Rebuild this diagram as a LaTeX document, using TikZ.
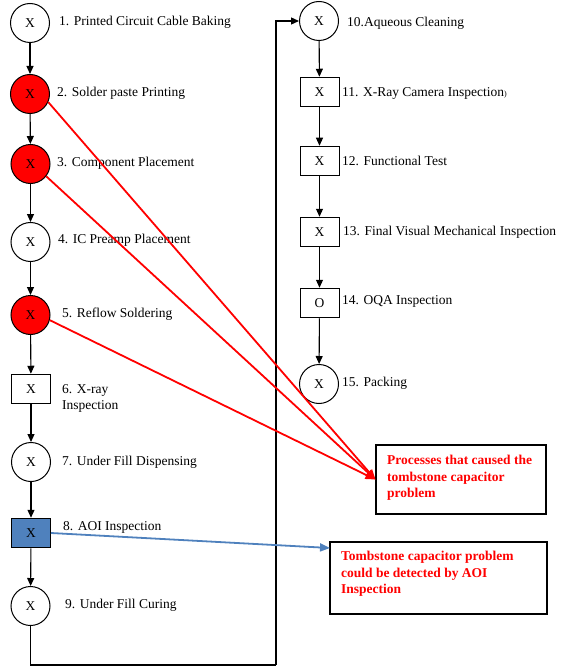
\documentclass[tikz,border=0pt]{standalone}
\usepackage{fontspec}
\setmainfont{Liberation Serif}
\usetikzlibrary{arrows.meta}
\definecolor{redfill}{RGB}{255,0,0}
\definecolor{aoiblue}{RGB}{79,129,189}
\begin{document}
\begin{tikzpicture}[x=1pt,y=-1pt,
  every node/.style={font=\fontsize{13.5}{16.5}\selectfont},
  circ/.style={circle,draw,line width=1pt,minimum size=39pt,inner sep=0pt},
  sq/.style={rectangle,draw,line width=1pt,minimum width=39pt,minimum height=29.5pt,inner sep=0pt},
  lbl/.style={anchor=west,inner sep=0pt,text height=9.5pt,text depth=3pt},
  flow/.style={line width=1.1pt,-{Triangle[length=8pt,width=7pt]}},
  redarr/.style={draw=red,line width=1.8pt,-{Triangle[length=10pt,width=8pt]}},
  bluearr/.style={draw=aoiblue,line width=1.8pt,-{Triangle[length=10pt,width=8pt]}},
  notebox/.style={rectangle,draw,line width=1.1pt,inner sep=0pt},
  notetxt/.style={anchor=north west,inner sep=0pt,align=left,text=red,font=\bfseries\fontsize{13.5}{16.5}\selectfont}
]
\useasboundingbox (0,0) rectangle (560,668);

% left column
\node[circ] (n1) at (30,23) {X};
\node[circ,fill=redfill] (n2) at (30,94) {X};
\node[circ,fill=redfill] (n3) at (30.5,164) {X};
\node[circ] (n4) at (30.5,242) {X};
\node[circ,fill=redfill] (n5) at (30.5,315) {X};
\node[sq] (n6) at (31,389) {X};
\node[circ] (n7) at (31,462) {X};
\node[sq,fill=aoiblue] (n8) at (31,533) {X};
\node[circ] (n9) at (30.5,606) {X};

% right column
\node[circ] (n10) at (319,21) {X};
\node[sq] (n11) at (319.5,92) {X};
\node[sq] (n12) at (319.5,161) {X};
\node[sq] (n13) at (319.5,232) {X};
\node[sq] (n14) at (319.5,303) {O};
\node[circ] (n15) at (319,384) {X};

% labels
\node[lbl] (l1) at (59,22) {1. Printed Circuit Cable Baking};
\node[lbl] (l2) at (57,93) {2. Solder paste Printing};
\node[lbl] (l3) at (57,163) {3. Component Placement};
\node[lbl] (l4) at (58,240) {4. IC Preamp Placement};
\node[lbl] (l5) at (62,314) {5. Reflow Soldering};
\node[anchor=north west,inner sep=0pt,align=left] (l6) at (62,384) {6. X-ray\\Inspection};
\node[lbl] (l7) at (62,462) {7. Under Fill Dispensing};
\node[lbl] (l8) at (63,527) {8. AOI Inspection};
\node[lbl] (l9) at (65,605) {9. Under Fill Curing};
\node[lbl] (l10) at (347,23) {10.Aqueous Cleaning};
\node[lbl] (l11) at (342,93) {11. X-Ray Camera Inspection{\fontsize{8}{9}\selectfont)}};
\node[lbl] (l12) at (342,162) {12. Functional Test};
\node[lbl] (l13) at (343,232) {13. Final Visual Mechanical Inspection};
\node[lbl] (l14) at (342,301) {14. OQA Inspection};
\node[lbl] (l15) at (342,383) {15. Packing};

% note boxes
\node[notebox,minimum width=170pt,minimum height=69pt] (rb) at (461,479.5) {};
\node[notetxt] (rbt) at (387,455) {Processes that caused the\\tombstone capacitor\\problem};
\node[notebox,minimum width=217pt,minimum height=72pt] (bb) at (438.5,578) {};
\node[notetxt] (bbt) at (341,551) {Tombstone capacitor problem\\could be detected by AOI\\Inspection};

% flow arrows
\draw[flow] (n1) -- (n2);
\draw[flow] (n2) -- (n3);
\draw[flow] (n3) -- (n4);
\draw[flow] (n4) -- (n5);
\draw[flow] (n5) -- (n6);
\draw[flow] (n6) -- (n7);
\draw[flow] (n7) -- (n8);
\draw[flow] (n8) -- (n9);
\coordinate (b1) at (276,665);
\draw[line width=1.8pt] (n9.south) |- (b1);
\draw[flow,line width=1.3pt] (b1) |- (n10.west);
\draw[flow] (n10) -- (n11);
\draw[flow] (n11) -- (n12);
\draw[flow] (n12) -- (n13);
\draw[flow] (n13) -- (n14);
\draw[flow] (n14) -- (n15);

% cause arrows
\coordinate (bt) at (330,548);
\draw[redarr] (n2.-24) -- (rb.west);
\draw[redarr] (n3.-38) -- (rb.west);
\draw[redarr] (n5.-15) -- (rb.west);
\draw[bluearr] (n8.east) -- (bt);
\end{tikzpicture}
\end{document}
